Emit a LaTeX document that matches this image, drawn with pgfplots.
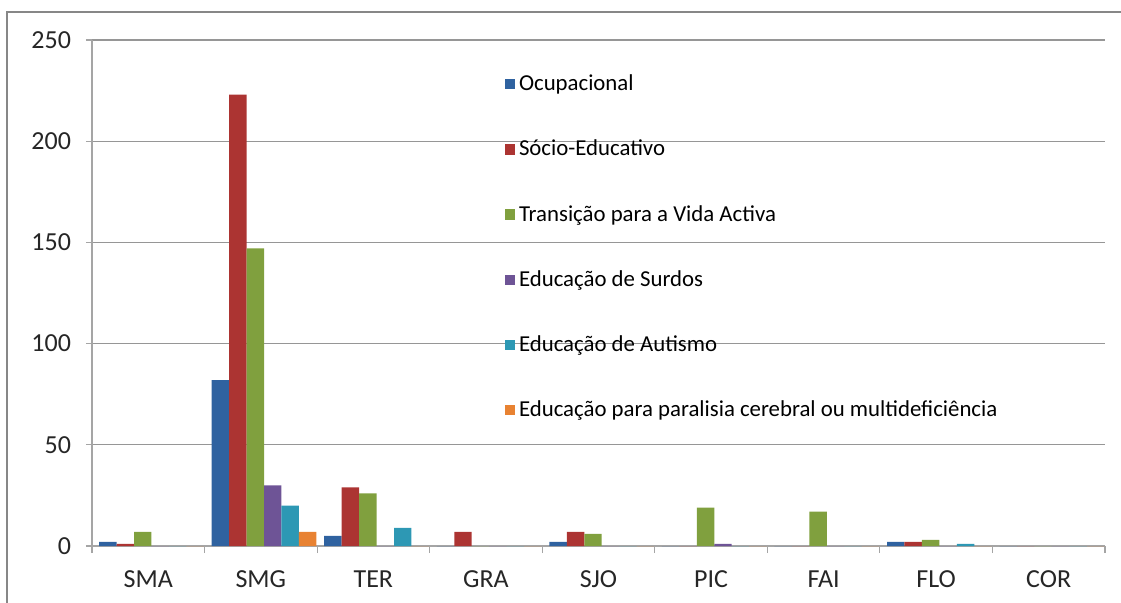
\documentclass[border=0pt]{standalone}
\usepackage{pgfplots}
\pgfplotsset{compat=1.18}
\usepackage{fontspec}
\setmainfont{Carlito}

\definecolor{cOcu}{RGB}{47,98,160}
\definecolor{cSoc}{RGB}{172,52,50}
\definecolor{cTra}{RGB}{128,160,62}
\definecolor{cSur}{RGB}{110,84,150}
\definecolor{cAut}{RGB}{45,152,180}
\definecolor{cPar}{RGB}{232,130,50}
\definecolor{gridc}{RGB}{150,150,150}
\definecolor{axisc}{RGB}{165,165,165}

\begin{document}
\begin{tikzpicture}
\useasboundingbox (0,0) rectangle (560.5pt,301pt);
\draw[draw={rgb,255:red,135;green,135;blue,135}, line width=1pt] (3.5pt,-2pt) -- (3.5pt,295pt) -- (565pt,295pt);
\begin{axis}[
  at={(46pt,28pt)}, anchor=south west,
  scale only axis, width=506.5pt, height=253pt,
  ybar=0pt, bar width=0.155,
  xmin=-0.5, xmax=8.5, ymin=0, ymax=250,
  axis x line*=bottom, axis y line*=left,
  axis line style={draw=axisc, line width=0.6pt, -},
  xtick={0,...,8},
  xticklabels={SMA,SMG,TER,GRA,SJO,PIC,FAI,FLO,COR},
  major x tick style={draw=none},
  minor xtick={-0.5,0.5,...,8.5},
  minor x tick style={draw=axisc, line width=0.6pt},
  minor tick length=3.5pt,
  ytick={0,50,...,250},
  major tick length=3pt,
  y tick style={draw=axisc, line width=0.6pt},
  tick align=outside,
  ymajorgrids, grid style={draw=gridc, line width=0.6pt},
  tick label style={font=\fontsize{13}{15}\selectfont, text=black!85},
  /pgf/number format/assume math mode=true,
  yticklabel style={xshift=-4pt},
  xticklabel style={yshift=-6pt},
  legend cell align=left,
  legend style={at={(0.401,0.948)}, anchor=north west, draw=none, fill=none,
    font=\fontsize{11.4}{13}\selectfont, row sep=19.2pt,
    /tikz/every even column/.append style={column sep=1.5pt}},
  legend image code/.code={\fill[#1] (0pt,-2.6pt) rectangle (5.2pt,2.6pt);},
  every axis plot/.append style={draw=none},
  every axis plot post/.append style={xshift=1.6pt},
]
\addplot[fill=cOcu] coordinates {(0,2) (1,82) (2,5) (3,0) (4,2) (5,0) (6,0) (7,2) (8,0)};
\addplot[fill=cSoc] coordinates {(0,1) (1,223) (2,29) (3,7) (4,7) (5,0) (6,0) (7,2) (8,0)};
\addplot[fill=cTra] coordinates {(0,7) (1,147) (2,26) (3,0) (4,6) (5,19) (6,17) (7,3) (8,0)};
\addplot[fill=cSur] coordinates {(0,0) (1,30) (2,0) (3,0) (4,0) (5,1) (6,0) (7,0) (8,0)};
\addplot[fill=cAut] coordinates {(0,0) (1,20) (2,9) (3,0) (4,0) (5,0) (6,0) (7,1) (8,0)};
\addplot[fill=cPar] coordinates {(0,0) (1,7) (2,0) (3,0) (4,0) (5,0) (6,0) (7,0) (8,0)};
\legend{Ocupacional,Sócio-Educativo,Transição para a Vida Activa,Educação de Surdos,Educação de Autismo,Educação para paralisia cerebral ou multideficiência}
\end{axis}
\end{tikzpicture}
\end{document}
